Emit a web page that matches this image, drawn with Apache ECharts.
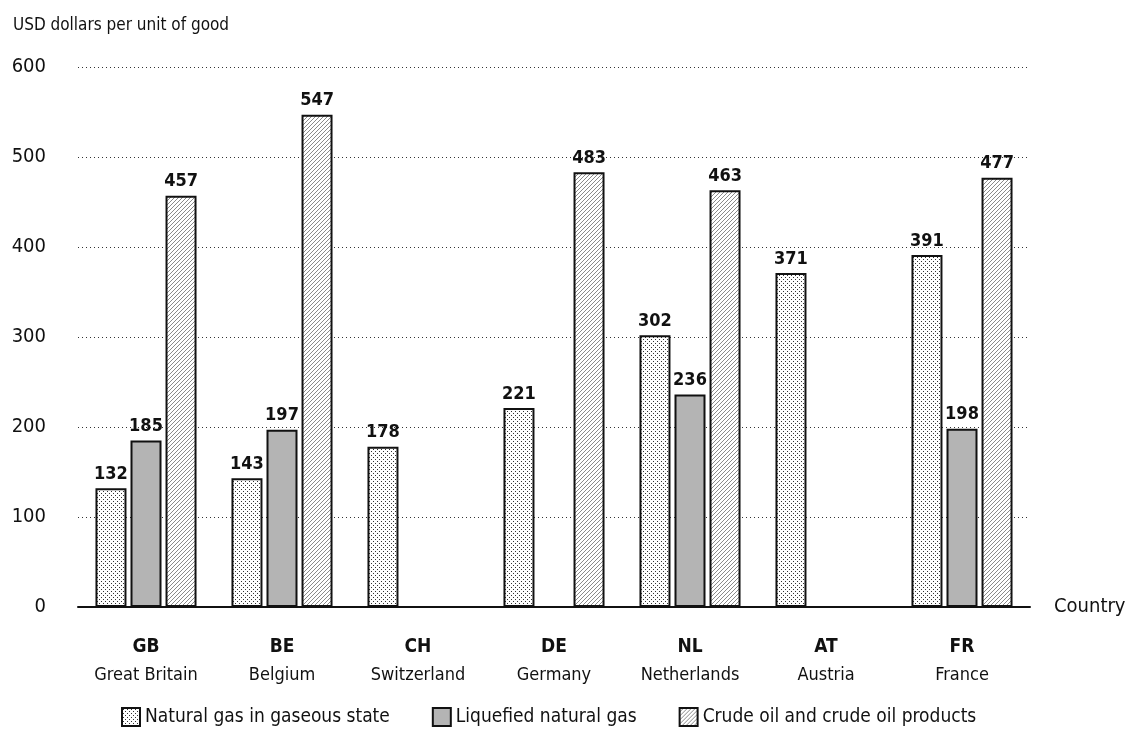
<!DOCTYPE html>
<html>
<head>
<meta charset="utf-8">
<style>
  html, body { margin: 0; padding: 0; background: #fff; }
  #chart { width: 1129px; height: 740px; }
</style>
<script src="https://cdn.jsdelivr.net/npm/echarts@6/dist/echarts.min.js"></script>
</head>
<body>
<div id="chart"></div>
<script>
// Country codes and full names
const codes = ['GB', 'BE', 'CH', 'DE', 'NL', 'AT', 'FR'];
const names = ['Great Britain', 'Belgium', 'Switzerland', 'Germany', 'Netherlands', 'Austria', 'France'];

// Prices in USD per unit of good ('-' = no value)
const naturalGas = [132, 143, 178, 221, 302, 371, 391];
const lng = [185, 197, '-', '-', 236, '-', 198];
const crudeOil = [457, 547, '-', 483, 463, '-', 477];

const seriesNames = ['Natural gas in gaseous state', 'Liquefied natural gas', 'Crude oil and crude oil products'];
const yTicks = [0, 100, 200, 300, 400, 500, 600];

const FONT = '"Liberation Sans Narrow", "DejaVu Sans Condensed", "Roboto", sans-serif';

// Dotted fill for natural gas bars
function dotPattern() {
  const c = document.createElement('canvas');
  c.width = 4; c.height = 4;
  const g = c.getContext('2d');
  g.fillStyle = '#ffffff';
  g.fillRect(0, 0, 4, 4);
  g.fillStyle = '#333333';
  g.fillRect(1, 1, 1, 1);
  g.fillRect(3, 3, 1, 1);
  return c;
}

// Diagonal hatch fill for crude oil bars
function hatchPattern() {
  const c = document.createElement('canvas');
  c.width = 4; c.height = 4;
  const g = c.getContext('2d');
  g.fillStyle = '#ffffff';
  g.fillRect(0, 0, 4, 4);
  g.strokeStyle = '#8a8a8a';
  g.lineWidth = 1;
  g.beginPath();
  g.moveTo(-1, 5); g.lineTo(5, -1);
  g.moveTo(-1, 1); g.lineTo(1, -1);
  g.moveTo(3, 5); g.lineTo(5, 3);
  g.stroke();
  return c;
}

const fills = [
  { image: dotPattern(), repeat: 'repeat' },
  '#b4b4b4',
  { image: hatchPattern(), repeat: 'repeat' }
];

const valueLabel = {
  show: true,
  position: 'top',
  distance: 5,
  fontFamily: FONT,
  fontWeight: 'bold',
  fontSize: 18,
  color: '#111'
};

function barSeries(i, data) {
  return {
    name: seriesNames[i],
    type: 'bar',
    data: data,
    barWidth: 31,
    barGap: '13%',
    itemStyle: { color: fills[i], borderColor: '#111', borderWidth: 2 },
    label: valueLabel,
    emphasis: { disabled: true }
  };
}

const chart = echarts.init(document.getElementById('chart'), null, { renderer: 'canvas' });
chart.setOption({
  animation: false,
  backgroundColor: '#ffffff',
  textStyle: { fontFamily: FONT },
  title: {
    text: 'USD dollars per unit of good',
    left: 8, top: 12,
    textStyle: { fontFamily: FONT, fontSize: 17, fontWeight: 'normal', color: '#111' }
  },
  grid: { left: 78, right: 99, top: 67, bottom: 133 },
  legend: {
    bottom: 8,
    left: 116,
    itemWidth: 18,
    itemHeight: 18,
    itemGap: 42,
    icon: 'rect',
    textStyle: { fontFamily: FONT, fontSize: 19, color: '#111' },
    data: seriesNames
  },
  xAxis: {
    type: 'category',
    data: codes,
    name: 'Country',
    nameLocation: 'end',
    nameGap: 24,
    nameTextStyle: { fontFamily: FONT, fontSize: 20, color: '#111', verticalAlign: 'middle' },
    axisLine: { lineStyle: { color: '#111', width: 2 } },
    axisTick: { show: false },
    axisLabel: {
      margin: 26,
      formatter: (v, i) => '{c|' + v + '}\n{n|' + names[i] + '}',
      rich: {
        c: { fontFamily: FONT, fontWeight: 'bold', fontSize: 19, color: '#111', lineHeight: 28 },
        n: { fontFamily: FONT, fontSize: 18, color: '#111', lineHeight: 28 }
      }
    }
  },
  yAxis: {
    type: 'value',
    min: yTicks[0],
    max: yTicks[yTicks.length - 1],
    interval: 100,
    axisLine: { show: false },
    axisTick: { show: false },
    axisLabel: { margin: 32, fontFamily: FONT, fontSize: 20, color: '#111' },
    splitLine: { show: true, lineStyle: { color: '#333', type: [1, 3], width: 1 } }
  },
  series: [
    barSeries(0, naturalGas),
    barSeries(1, lng),
    barSeries(2, crudeOil)
  ]
});
</script>
</body>
</html>
